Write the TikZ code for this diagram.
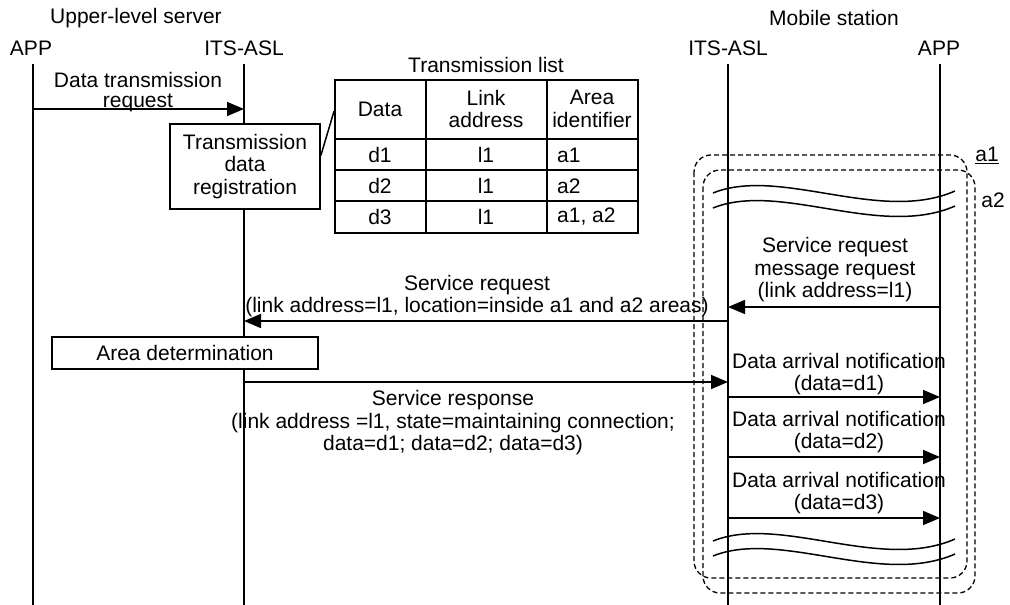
\documentclass[tikz,border=0pt]{standalone}
\usepackage{fontspec}
\setmainfont{Liberation Sans}
\usetikzlibrary{arrows.meta}
\begin{document}
\begin{tikzpicture}[x=1pt,y=-1pt,
  every node/.style={font=\fontsize{21}{22.5}\selectfont, inner sep=0pt, align=center},
  lifethin/.style={line width=1.5pt},
  lifethick/.style={line width=2.6pt},
  msg/.style={line width=1.7pt, -{Triangle[length=17pt,width=14pt]}},
  procbox/.style={draw, line width=1.7pt, fill=white},
  areabox/.style={draw, line width=1.3pt, dash pattern=on 5pt off 3pt, rounded corners=17pt},
  wave/.style={line width=1.5pt},
  tline/.style={line width=1.5pt}]
\useasboundingbox (0,0) rectangle (1010,605);

% headers
\node (ups) at (136,18) {Upper-level server};
\node (mob) at (834,18) {Mobile station};
\node (appL) at (31,48) {APP};
\node (aslL) at (244,48) {ITS-ASL};
\node (aslR) at (728,48) {ITS-ASL};
\node (appR) at (939,48) {APP};

% lifeline coordinates
\coordinate (appLt) at (33,64);   \coordinate (appLb) at (33,605);
\coordinate (aslLt) at (244,64);  \coordinate (aslLb) at (244,605);
\coordinate (aslRt) at (728,64);  \coordinate (aslRb) at (728,605);
\coordinate (appRt) at (940,64);  \coordinate (appRb) at (940,605);

% area boxes (dashed)
\draw[areabox] (694,155) rectangle (967,578);
\draw[areabox] (703,170) rectangle (975,593);
\node (a1) at (987,155) {\underline{a1}};
\node (a2) at (993,200) {a2};

% lifelines
\draw[lifethin] (appLt) -- (appLb);
\draw[lifethin] (aslLt) -- (aslLb);
\draw[lifethick] (aslRt) -- (aslRb);
\draw[lifethick] (appRt) -- (appRb);

% wavy break marks
\draw[wave] (713,193) .. controls (780,166) and (880,224) .. (955,191);
\draw[wave] (713,208) .. controls (780,181) and (880,239) .. (955,206);
\draw[wave] (713,541) .. controls (780,514) and (880,572) .. (955,539);
\draw[wave] (713,556) .. controls (780,529) and (880,587) .. (955,554);

% data transmission request
\coordinate (m1s) at (33,109); \coordinate (m1e) at (244,109);
\draw[msg] (m1s) -- (m1e);
\node (m1l) at (138,92) {Data transmission\\[-2pt]request};

% transmission data registration box
\node[procbox, minimum width=150pt, minimum height=85pt] (tdr) at (245,166.5)
  {Transmission\\data\\registration};

% transmission list table
\node (tlt) at (486,65) {Transmission list};
\node[draw, tline, minimum width=303pt, minimum height=153pt, anchor=north west] (tbl) at (334,79) {};
\draw[tline] (426,79) -- (426,232);
\draw[tline] (547,79) -- (547,232);
\draw[tline] (334,139) -- (637,139);
\draw[tline] (334,170) -- (637,170);
\draw[tline] (334,201) -- (637,201);
\node (h1) at (380,109) {Data};
\node (h2) at (486,109) {Link\\address};
\node (h3) at (592,109) {Area\\identifier};
\node (r1c1) at (380,155) {d1};
\node (r1c2) at (486,155) {l1};
\node[anchor=west] (r1c3) at (557,155) {a1};
\node (r2c1) at (380,186) {d2};
\node (r2c2) at (486,186) {l1};
\node[anchor=west] (r2c3) at (557,186) {a2};
\node (r3c1) at (380,217) {d3};
\node (r3c2) at (486,217) {l1};
\node[anchor=west] (r3c3) at (557,217) {a1, a2};
\draw[tline] ([yshift=11pt]tdr.east) -- ([yshift=45pt]tbl.west);

% service request message request
\coordinate (m2s) at (940,307); \coordinate (m2e) at (728,307);
\draw[msg] (m2s) -- (m2e);
\node (m2l) at (835,270) {Service request\\message request\\(link address=l1)};

% service request
\coordinate (m3s) at (728,321); \coordinate (m3e) at (244,321);
\draw[msg] (m3s) -- (m3e);
\node (m3l) at (477,296) {Service request\\(link address=l1, location=inside a1 and a2 areas)};

% area determination
\node[procbox, minimum width=266pt, minimum height=32pt] (adet) at (185,353) {Area determination};

% service response
\coordinate (m4s) at (244,382); \coordinate (m4e) at (728,382);
\draw[msg] (m4s) -- (m4e);
\node (m4l) at (453,423) {Service response\\(link address =l1, state=maintaining connection;\\data=d1; data=d2; data=d3)};

% data arrival notifications
\coordinate (n1s) at (728,397); \coordinate (n1e) at (940,397);
\draw[msg] (n1s) -- (n1e);
\node (n1l) at (839,374) {Data arrival notification\\(data=d1)};
\coordinate (n2s) at (728,457); \coordinate (n2e) at (940,457);
\draw[msg] (n2s) -- (n2e);
\node (n2l) at (839,432) {Data arrival notification\\(data=d2)};
\coordinate (n3s) at (728,518); \coordinate (n3e) at (940,518);
\draw[msg] (n3s) -- (n3e);
\node (n3l) at (839,493) {Data arrival notification\\(data=d3)};
\end{tikzpicture}
\end{document}
